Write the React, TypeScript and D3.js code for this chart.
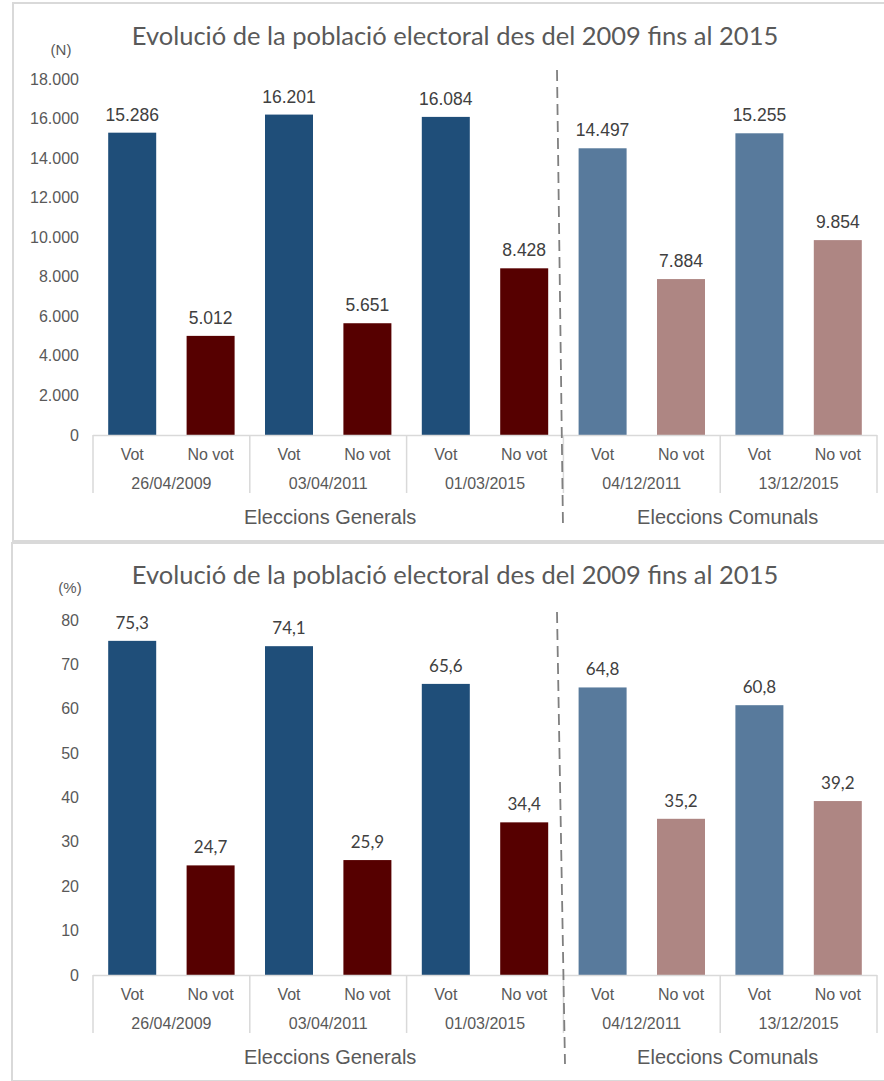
import React from "react";
import * as d3 from "d3";

const dates = ["26/04/2009", "03/04/2011", "01/03/2015", "04/12/2011", "13/12/2015"];
const groupTypes = ["Generals", "Generals", "Generals", "Comunals", "Comunals"];
const subLabels = ["Vot", "No vot"];
const votN = [15286, 16201, 16084, 14497, 15255];
const noVotN = [5012, 5651, 8428, 7884, 9854];
const votPct = [75.3, 74.1, 65.6, 64.8, 60.8];
const noVotPct = [24.7, 25.9, 34.4, 35.2, 39.2];
const ticksN = [0, 2000, 4000, 6000, 8000, 10000, 12000, 14000, 16000, 18000];
const ticksPct = [0, 10, 20, 30, 40, 50, 60, 70, 80];
const superLabels = ["Eleccions Generals", "Eleccions Comunals"];
const colors = {
  Generals: ["#1F4E79", "#560000"],
  Comunals: ["#587A9C", "#AE8683"],
};
const TITLE = "Evolució de la població electoral des del 2009 fins al 2015";

const ARIAL = "'Liberation Sans', Arial, sans-serif";
const CALIBRI = "Lato, 'Open Sans', sans-serif";

type PanelProps = {
  top: number;
  boxX: number;
  unit: string;
  vot: number[];
  noVot: number[];
  ticks: number[];
  max: number;
  fmt: (v: number) => string;
  tickFmt: (v: number) => string;
  labelFont: string;
  labelSize: number;
  titleBaseline: number;
  unitY: number;
  unitX: number;
  y0: number;
  yMax: number;
  dashTop: number;
  dashBottom: number;
  dashX1: number;
  dashX2: number;
};

function Panel(p: PanelProps) {
  const keys: string[] = [];
  dates.forEach((d, i) => subLabels.forEach((s) => keys.push(i + "|" + s)));
  const x = d3.scaleBand<string>().domain(keys).range([93, 877]).paddingInner(0).paddingOuter(0);
  const bw = 48;
  const y = d3.scaleLinear().domain([0, p.max]).range([p.y0, p.yMax]);
  const gx = d3.scaleBand<string>().domain(dates.map((_, i) => String(i))).range([93, 877]);
  const lineCol = "#D9D9D9";
  const txt = "#595959";
  const rowSub = p.y0 + 25;
  const rowDate = p.y0 + 54;
  const rowSuper = p.y0 + 89;
  const sepBottom = p.y0 + 58;

  const bars: React.ReactNode[] = [];
  dates.forEach((d, i) => {
    const vals = [p.vot[i], p.noVot[i]];
    vals.forEach((v, j) => {
      const k = i + "|" + subLabels[j];
      const cx = (x(k) as number) + x.bandwidth() / 2;
      const col = colors[groupTypes[i] as "Generals" | "Comunals"][j];
      bars.push(
        <g key={k}>
          <rect x={cx - bw / 2} y={y(v)} width={bw} height={p.y0 - y(v)} fill={col} />
          <text
            x={cx}
            y={y(v) - 12}
            textAnchor="middle"
            fontFamily={p.labelFont}
            fontSize={p.labelSize}
            fill="#404040"
          >
            {p.fmt(v)}
          </text>
          <text x={cx} y={rowSub} textAnchor="middle" fontFamily={ARIAL} fontSize={16} fill={txt}>
            {subLabels[j]}
          </text>
        </g>
      );
    });
  });

  const genEnd = (gx("2") as number) + gx.bandwidth();
  const comStart = gx("3") as number;
  const superCenters = [(93 + genEnd) / 2 + 2, (comStart + 884) / 2 + 4];

  return (
    <g>
      <rect
        x={p.boxX}
        y={p.top}
        width={900}
        height={538}
        fill="#fff"
        stroke={lineCol}
        strokeWidth={2}
      />
      <text
        x={455}
        y={p.titleBaseline}
        textAnchor="middle"
        fontFamily={CALIBRI}
        fontSize={25.5}
        fill={txt}
      >
        {TITLE}
      </text>
      <text x={p.unitX} y={p.unitY} textAnchor="middle" fontFamily={ARIAL} fontSize={15} fill={txt}>
        {p.unit}
      </text>
      {p.ticks.map((t) => (
        <text
          key={t}
          x={79}
          y={y(t)}
          dy="0.35em"
          textAnchor="end"
          fontFamily={ARIAL}
          fontSize={16}
          fill={txt}
        >
          {p.tickFmt(t)}
        </text>
      ))}
      {bars}
      <line x1={93} x2={877} y1={p.y0 + 0.5} y2={p.y0 + 0.5} stroke={lineCol} strokeWidth={1.5} />
      {[0, 1, 2, 3, 4, 5].map((i) => {
        const xx = i < 5 ? (gx(String(i)) as number) : 877;
        return (
          <line key={i} x1={xx} x2={xx} y1={p.y0} y2={sepBottom} stroke={lineCol} strokeWidth={1.5} />
        );
      })}
      {dates.map((d, i) => (
        <text
          key={d + i}
          x={(gx(String(i)) as number) + gx.bandwidth() / 2}
          y={rowDate}
          textAnchor="middle"
          fontFamily={ARIAL}
          fontSize={16}
          fill={txt}
        >
          {d}
        </text>
      ))}
      {superLabels.map((s, i) => (
        <text
          key={s}
          x={superCenters[i]}
          y={rowSuper}
          textAnchor="middle"
          fontFamily={ARIAL}
          fontSize={20}
          fill={txt}
        >
          {s}
        </text>
      ))}
      <line
        x1={p.dashX1}
        y1={p.dashTop}
        x2={p.dashX2}
        y2={p.dashBottom}
        stroke="#7F7F7F"
        strokeWidth={1.8}
        strokeDasharray="11,6"
      />
    </g>
  );
}

const fmtN = (v: number) => d3.format(",")(v).replace(/,/g, ".");
const fmtPct = (v: number) => v.toFixed(1).replace(".", ",");
const fmtTick = (v: number) => String(v);

export default function App() {
  return (
    <svg
      width={884}
      height={1081}
      style={{ position: "absolute", left: 0, top: 0, background: "#fff" }}
    >
      <Panel
        top={3}
        boxX={13}
        unit="(N)"
        vot={votN}
        noVot={noVotN}
        ticks={ticksN}
        max={18000}
        fmt={fmtN}
        tickFmt={fmtN}
        labelFont={ARIAL}
        labelSize={17.5}
        titleBaseline={45}
        unitY={55}
        unitX={61}
        y0={435}
        yMax={79}
        dashTop={70}
        dashBottom={527}
        dashX1={557}
        dashX2={563}
      />
      <Panel
        top={543}
        boxX={12}
        unit="(%)"
        vot={votPct}
        noVot={noVotPct}
        ticks={ticksPct}
        max={80}
        fmt={fmtPct}
        tickFmt={fmtTick}
        labelFont={CALIBRI}
        labelSize={17}
        titleBaseline={584}
        unitY={593}
        unitX={70}
        y0={975}
        yMax={620}
        dashTop={612}
        dashBottom={1064}
        dashX1={557}
        dashX2={565}
      />
    </svg>
  );
}
